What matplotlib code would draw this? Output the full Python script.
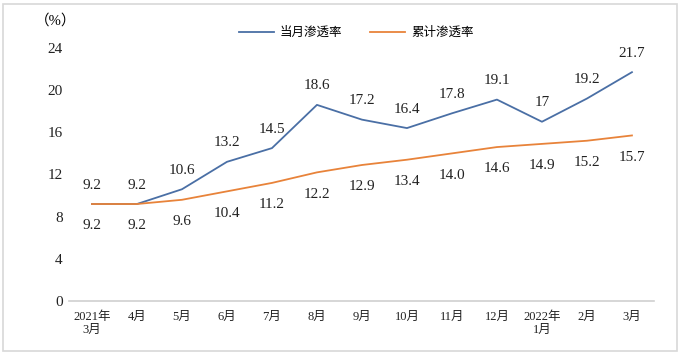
import numpy as np
import matplotlib.pyplot as plt
from matplotlib.patches import Rectangle

months = ['2021年\n3月', '4月', '5月', '6月', '7月', '8月', '9月', '10月',
          '11月', '12月', '2022年\n1月', '2月', '3月']
monthly = [9.2, 9.2, 10.6, 13.2, 14.5, 18.6, 17.2, 16.4, 17.8, 19.1, 17, 19.2, 21.7]
cumulative = [9.2, 9.2, 9.6, 10.4, 11.2, 12.2, 12.9, 13.4, 14.0, 14.6, 14.9, 15.2, 15.7]
monthly_txt = ['9.2', '9.2', '10.6', '13.2', '14.5', '18.6', '17.2', '16.4',
               '17.8', '19.1', '17', '19.2', '21.7']
cumulative_txt = ['9.2', '9.2', '9.6', '10.4', '11.2', '12.2', '12.9', '13.4',
                  '14.0', '14.6', '14.9', '15.2', '15.7']

serif = ['Liberation Serif', 'Noto Sans CJK SC']
cjk = ['Noto Sans CJK SC', 'DejaVu Sans']
blue = '#4a6fa5'
orange = '#e8833a'

fig = plt.figure(figsize=(6.81, 3.55), dpi=100)
ax = fig.add_axes([0.102, 0.152, 0.859, 0.713])

x = np.arange(len(months))
ax.plot(x, monthly, color=blue, lw=1.3, label='当月渗透率')
ax.plot(x, cumulative, color=orange, lw=1.3, label='累计渗透率')

for xi, v, t in zip(x, monthly, monthly_txt):
    ax.annotate(t, (xi, v), xytext=(0, 9), textcoords='offset points',
                ha='center', va='bottom', fontsize=11, family=serif, color='#222222')
for xi, v, t in zip(x, cumulative, cumulative_txt):
    ax.annotate(t, (xi, v), xytext=(0, -11), textcoords='offset points',
                ha='center', va='top', fontsize=11, family=serif, color='#222222')

ax.set_xlim(-0.5, len(months) - 0.5)
ax.set_ylim(0, 24)
ax.set_yticks(np.arange(0, 25, 4))
ax.set_xticks(x)
ax.set_xticklabels(months, family=serif, fontsize=9, linespacing=1.1)
for lab in ax.get_yticklabels():
    lab.set_family(serif)
    lab.set_fontsize(11)
ax.tick_params(axis='both', length=0, colors='#222222')
ax.tick_params(axis='y', pad=5)
ax.tick_params(axis='x', pad=7)
for s in ['top', 'right', 'left']:
    ax.spines[s].set_visible(False)
ax.spines['bottom'].set_color('#d0d0d0')
ax.spines['bottom'].set_linewidth(1.2)

fig.text(0.082, 0.943, '（%）', ha='center', va='center', fontsize=10.5, family=serif)

ax.legend(loc='lower center', bbox_to_anchor=(0.49, 0.99), ncol=2, frameon=False,
          prop={'family': cjk, 'size': 9}, handlelength=2.8, columnspacing=2.2,
          handletextpad=0.5)

fig.patches.append(Rectangle((0.004, 0.012), 0.99, 0.976, transform=fig.transFigure,
                             fill=False, edgecolor='#d8d8d8', lw=1.2))

fig.savefig('out.png', dpi=100)
